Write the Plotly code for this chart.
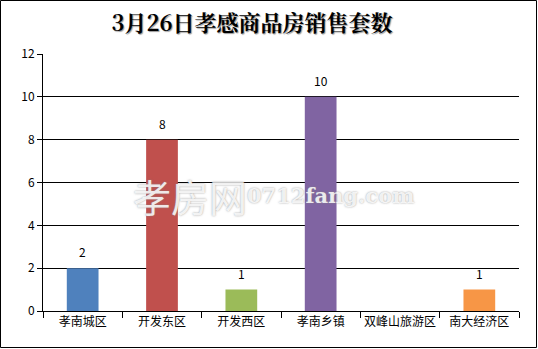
import plotly.graph_objects as go

categories = ["孝南城区", "开发东区", "开发西区", "孝南乡镇", "双峰山旅游区", "南大经济区"]
values = [2, 8, 1, 10, 0, 1]
colors = ["#4F81BD", "#C0504D", "#9BBB59", "#8064A2", "#4BACC6", "#F79646"]
y_ticks = [0, 2, 4, 6, 8, 10, 12]
title_text = "3月26日孝感商品房销售套数"

W, H = 538, 349
L, R, T, B = 43, 19, 54, 38
pw, ph = W - L - R, H - T - B

fig = go.Figure(go.Bar(
    x=categories, y=values, marker=dict(color=colors, line=dict(width=0)),
    hoverinfo="x+y",
))

for c, v in zip(categories, values):
    if v:
        fig.add_annotation(x=c, y=v, text=str(v), showarrow=False, yanchor="bottom", yshift=6,
                           font=dict(family="SimSun, Noto Sans CJK SC", size=12, color="#000"))

fig.update_layout(
    width=W, height=H, margin=dict(l=L, r=R, t=T, b=B, autoexpand=False),
    paper_bgcolor="white", plot_bgcolor="white",
    bargap=0.6, showlegend=False,
    title=dict(text=title_text, x=252 / W, xanchor="center", y=1 - 23 / H, yanchor="middle",
               xref="container", yref="container",
               font=dict(family="Noto Serif CJK SC, Noto Sans CJK SC", size=22, color="#000",
                         weight="bold", shadow="1px 1px 1px #999")),
    xaxis=dict(showline=True, linecolor="#000", linewidth=1, ticks="outside", ticklen=6,
               tickcolor="#000", tickson="boundaries", tickangle=0, automargin=False,
               tickfont=dict(family="SimSun, Noto Sans CJK SC", size=12, color="#000")),
    yaxis=dict(range=[0, 12], tickvals=y_ticks, showgrid=True, gridcolor="#000", gridwidth=1,
               showline=True, linecolor="#000", linewidth=1, ticks="outside", ticklen=5,
               tickcolor="#000", zeroline=False, automargin=False,
               tickfont=dict(family="SimSun, Noto Sans CJK SC", size=12, color="#000")),
)

# outer border of the chart
fig.add_shape(type="rect", xref="paper", yref="paper",
              x0=(0.5 - L) / pw, x1=(W - 1.5 - L) / pw,
              y0=(T + ph - (H - 1.5)) / ph, y1=(T + ph - 0.5) / ph,
              line=dict(color="#000", width=1), layer="above")

# watermark
fig.add_annotation(x=(190 - L) / pw, y=(T + ph - 195) / ph, xref="paper", yref="paper",
                   text="孝房网", showarrow=False, xanchor="center", yanchor="middle",
                   font=dict(family="Noto Sans CJK SC", size=38, color="rgba(255,255,255,0.85)",
                             shadow="0 0 2px #888"))
fig.add_annotation(x=(330 - L) / pw, y=(T + ph - 195) / ph, xref="paper", yref="paper",
                   text="0712fang.com", showarrow=False, xanchor="center", yanchor="middle",
                   font=dict(family="DejaVu Serif", size=21, color="rgba(255,255,255,0.85)",
                             weight="bold", shadow="0 0 2px #888"))

fig.write_html("out.html")
